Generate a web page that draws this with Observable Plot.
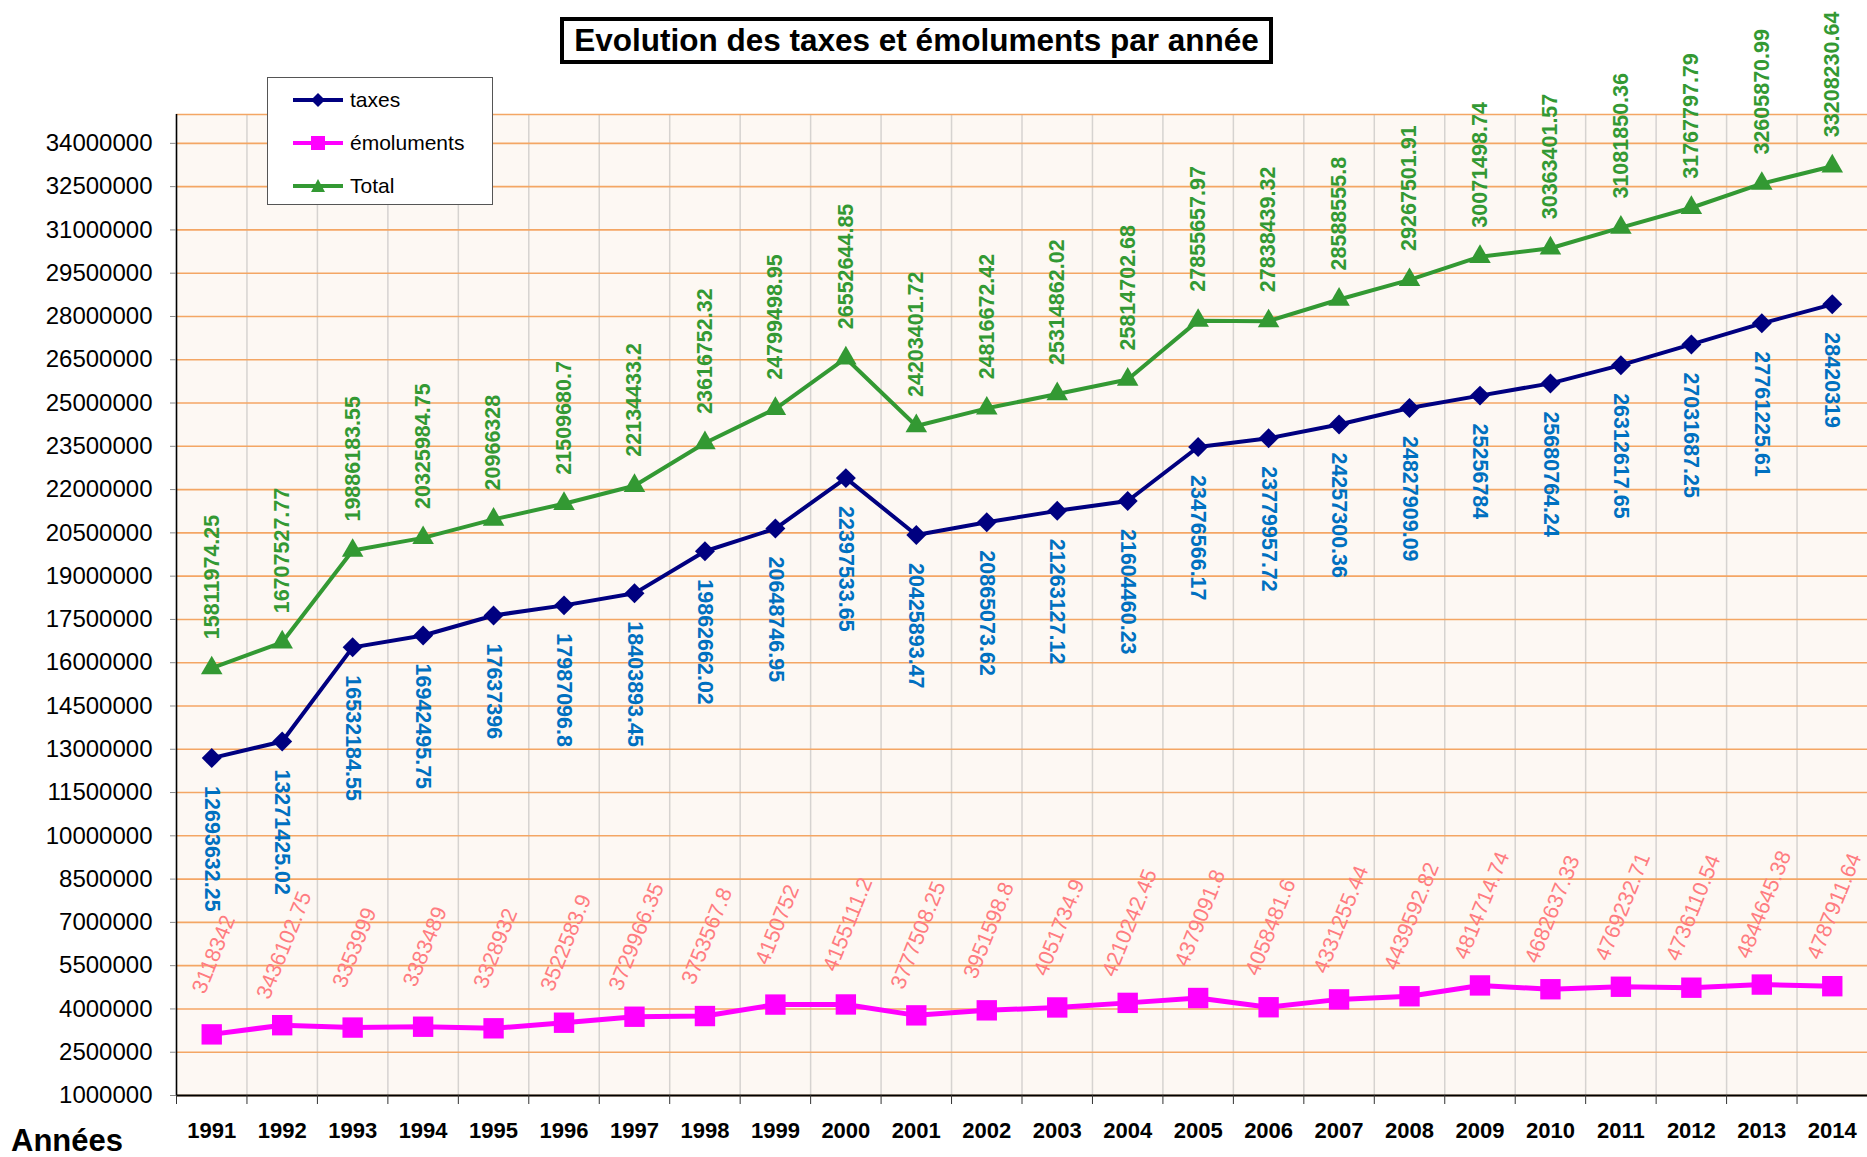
<!DOCTYPE html>
<html><head><meta charset="utf-8">
<script src="https://cdn.jsdelivr.net/npm/d3@7"></script>
<script src="https://cdn.jsdelivr.net/npm/@observablehq/plot@0.6"></script>
<style>
body{margin:0;background:#fff;font-family:"Liberation Sans",Arial,sans-serif;}
#wrap{position:relative;width:1867px;height:1157px;overflow:hidden;}
#chart{position:absolute;left:0;top:0;}
#title{position:absolute;left:560px;top:17px;width:713px;height:47px;box-sizing:border-box;border:4px solid #000;font-weight:bold;font-size:31.5px;display:flex;align-items:center;justify-content:center;background:#fff;color:#000;white-space:nowrap;}
#legend{position:absolute;left:267px;top:77px;width:226px;height:128px;box-sizing:border-box;border:1.5px solid #555;background:#fff;}
#legend .item{position:absolute;left:24px;height:30px;display:flex;align-items:center;font-size:21px;color:#000;}
#legend svg{margin-right:4px;}
#annees{position:absolute;left:11px;top:1125px;font-weight:bold;font-size:31px;line-height:31px;color:#000;}
</style>
</head><body>
<div id="wrap">
  <div id="chart"></div>
  <div id="title">Evolution des taxes et émoluments par année</div>
  <div id="legend"></div>
  <div id="annees">Années</div>
</div>
<script>
const years = [1991,1992,1993,1994,1995,1996,1997,1998,1999,2000,2001,2002,2003,2004,2005,2006,2007,2008,2009,2010,2011,2012,2013,2014];
const taxes = [12693632.25,13271425.02,16532184.55,16942495.75,17637396,17987096.8,18403893.45,19862662.02,20648746.95,22397533.65,20425893.47,20865073.62,21263127.12,21604460.23,23476566.17,23779957.72,24257300.36,24827909.09,25256784,25680764.24,26312617.65,27031687.25,27761225.61,28420319];
const emoluments = [3118342,3436102.75,3353999,3383489,3328932,3522583.9,3729966.35,3753567.8,4150752,4155111.2,3777508.25,3951598.8,4051734.9,4210242.45,4379091.8,4058481.6,4331255.44,4439592.82,4814714.74,4682637.33,4769232.71,4736110.54,4844645.38,4787911.64];
const total = [15811974.25,16707527.77,19886183.55,20325984.75,20966328,21509680.7,22134433.2,23616752.32,24799498.95,26552644.85,24203401.72,24816672.42,25314862.02,25814702.68,27855657.97,27838439.32,28588555.8,29267501.91,30071498.74,30363401.57,31081850.36,31767797.79,32605870.99,33208230.64];
const seriesNames = ["taxes","émoluments","Total"];
const yTicks = d3.range(1000000, 34000001, 1500000);
const yMin = 1000000, yMax = 35000000;

const C = {taxes:"#000080", emo:"#ff00ff", total:"#339933", taxesLbl:"#0070c0", emoLbl:"#ff7c80", totalLbl:"#339933"};

const rows = years.map((yr,i)=>({year:yr, taxes:taxes[i], emo:emoluments[i], total:total[i]}));
const bounds = years.map(y=>y-0.5).concat([years[years.length-1]+0.5]);

const chart = Plot.plot({
  width:1867, height:1157, marginLeft:176, marginRight:0, marginTop:114, marginBottom:62,
  style:{background:"transparent", fontFamily:"'Liberation Sans', Arial, sans-serif", color:"#000", overflow:"visible"},
  x:{type:"linear", domain:[bounds[0], bounds[bounds.length-1]], axis:null},
  y:{domain:[yMin, yMax], axis:null},
  marks:[
    Plot.frame({fill:"#fdf8f3", stroke:null}),
    Plot.ruleX(bounds.slice(1,-1), {stroke:"#d6d3d0", strokeWidth:1.5}),
    Plot.ruleY(yTicks.concat([yMax]), {stroke:"#f4a664", strokeWidth:1.6}),
    Plot.ruleX([bounds[0]], {stroke:"#000", strokeWidth:1.6}),
    Plot.ruleY([yMin], {stroke:"#000", strokeWidth:2}),
    Plot.axisY({ticks:yTicks, tickSize:6, tickPadding:18, tickFormat:d3.format("d"), fontSize:24, stroke:"#888", label:null}),
    Plot.axisX({ticks:bounds, tickSize:9, tickFormat:()=>"", stroke:"#333", label:null}),
    Plot.axisX({ticks:years, tickSize:0, tickPadding:27, tickFormat:d=>String(d), fontSize:22, fontWeight:"bold", label:null}),
    // lines
    Plot.line(rows, {x:"year", y:"emo", stroke:C.emo, strokeWidth:5}),
    Plot.line(rows, {x:"year", y:"total", stroke:C.total, strokeWidth:4}),
    Plot.line(rows, {x:"year", y:"taxes", stroke:C.taxes, strokeWidth:4}),
    // markers
    Plot.dot(rows, {x:"year", y:"emo", symbol:"square", r:11.5, fill:C.emo, stroke:null}),
    Plot.dot(rows, {x:"year", y:"total", symbol:"triangle", r:8, fill:C.total, stroke:null}),
    Plot.dot(rows, {x:"year", y:"taxes", symbol:"diamond2", r:9, fill:C.taxes, stroke:null}),
    // labels
    Plot.text(rows, {x:"year", y:"taxes", text:d=>String(d.taxes), rotate:90, textAnchor:"start", dy:28, fill:C.taxesLbl, fontWeight:"bold", fontSize:21.5}),
    Plot.text(rows, {x:"year", y:"total", text:d=>String(d.total), rotate:-90, textAnchor:"start", dy:-29, fill:C.totalLbl, fontWeight:"bold", fontSize:21.5}),
    Plot.text(rows, {x:"year", y:"emo", text:d=>String(d.emo), rotate:-68, textAnchor:"middle", dx:2, dy:-80, fill:C.emoLbl, fontSize:21.5})
  ]
});
document.getElementById("chart").appendChild(chart);

// legend
const leg = document.getElementById("legend");
const legendItems = [
  {name:seriesNames[0], color:C.taxes, sym:"diamond"},
  {name:seriesNames[1], color:C.emo, sym:"square"},
  {name:seriesNames[2], color:C.total, sym:"triangle"}
];
legendItems.forEach((it,i)=>{
  const div = document.createElement("div");
  div.className = "item";
  div.style.top = (7 + i*43) + "px";
  let marker;
  if (it.sym==="diamond") marker = `<path d="M26,8 L33,15 L26,22 L19,15 Z" fill="${it.color}"/>`;
  else if (it.sym==="square") marker = `<rect x="19" y="8" width="14" height="14" fill="${it.color}"/>`;
  else marker = `<path d="M26,8 L33,21 L19,21 Z" fill="${it.color}"/>`;
  div.innerHTML = `<svg width="54" height="30"><line x1="1" x2="51" y1="15" y2="15" stroke="${it.color}" stroke-width="4"/>${marker}</svg><span>${it.name}</span>`;
  leg.appendChild(div);
});
</script>
</body></html>
